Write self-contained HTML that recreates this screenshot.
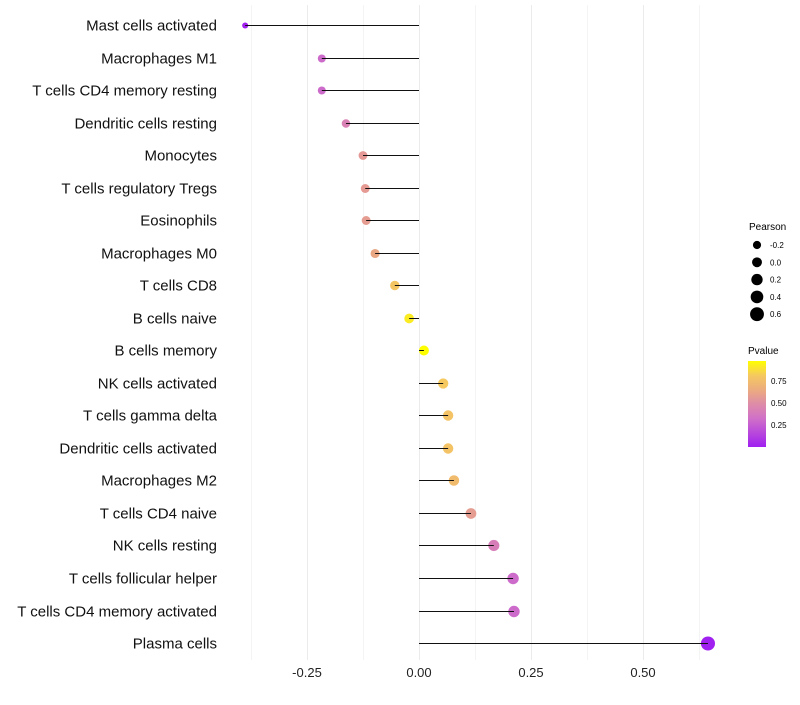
<!DOCTYPE html>
<html><head><meta charset="utf-8"><style>
body{margin:0;background:#fff;}
svg text{font-family:"Liberation Sans",sans-serif;}
</style></head><body>
<svg id="chart" width="800" height="700" xmlns="http://www.w3.org/2000/svg">
<g id="grid"></g>
<g id="dots"></g>
<g id="marks"></g>
<g id="ylabels"></g>
<g id="xlabels"></g>
<g id="sizeLegend">
<text x="749" y="230" font-size="10">Pearson</text>
</g>
<g>
<defs><linearGradient id="pg" x1="0" y1="1" x2="0" y2="0">
<stop offset="0" stop-color="#A020F0"/><stop offset="0.33" stop-color="#D070C8"/><stop offset="0.5" stop-color="#DE8CA8"/><stop offset="0.66" stop-color="#EBAA80"/><stop offset="0.83" stop-color="#F5C860"/><stop offset="1" stop-color="#FFFF00"/></linearGradient></defs>
<text x="748" y="354" font-size="10">Pvalue</text>
<rect x="748" y="361" width="18" height="86" fill="url(#pg)"/>
<text x="771" y="384" font-size="8">0.75</text>
<text x="771" y="406" font-size="8">0.50</text>
<text x="771" y="428" font-size="8">0.25</text>
</g>
</svg>
<script>
const categories=["Mast cells activated","Macrophages M1","T cells CD4 memory resting","Dendritic cells resting","Monocytes","T cells regulatory  Tregs ","Eosinophils","Macrophages M0","T cells CD8","B cells naive","B cells memory","NK cells activated","T cells gamma delta","Dendritic cells activated","Macrophages M2","T cells CD4 naive","NK cells resting","T cells follicular helper","T cells CD4 memory activated","Plasma cells"];
const pearson=[-0.388,-0.217,-0.217,-0.163,-0.125,-0.12,-0.118,-0.098,-0.054,-0.022,0.011,0.054,0.065,0.065,0.078,0.116,0.167,0.21,0.212,0.645];
const pvalues=[0.01,0.30,0.30,0.42,0.55,0.56,0.57,0.62,0.78,0.9,0.96,0.8,0.77,0.77,0.73,0.57,0.4,0.3,0.3,0.005];
const xTicks=[-0.25,0,0.25,0.5];
const xTickLabels=["-0.25","0.00","0.25","0.50"];
const xMinor=[-0.375,-0.125,0.125,0.375,0.625];
const sizeLegendVals=[-0.2,0,0.2,0.4,0.6];
const sizeLegendLabels=["-0.2","0.0","0.2","0.4","0.6"];
const NS="http://www.w3.org/2000/svg";
const xs=v=>419+v*448;
const ys=i=>25+i*32.53;
const rs=v=>Math.sqrt(Math.max(2.25,16+(v+0.217)*39));
const stops=[[0,[160,32,240]],[0.33,[208,112,200]],[0.5,[222,140,168]],[0.66,[235,170,128]],[0.83,[245,200,96]],[1,[255,255,0]]];
function col(p){let t=Math.max(0,Math.min(1,(p-0.005)/0.955));for(let i=1;i<stops.length;i++){if(t<=stops[i][0]){const a=stops[i-1],b=stops[i];const f=(t-a[0])/(b[0]-a[0]);const c=a[1].map((x,k)=>Math.round(x+(b[1][k]-x)*f));return `rgb(${c})`;}}return "rgb(255,255,0)";}
function mk(tag,attrs,parent){const e=document.createElementNS(NS,tag);for(const k in attrs)e.setAttribute(k,attrs[k]);parent.appendChild(e);return e;}
const grid=document.getElementById('grid');
xMinor.forEach(v=>{const x=Math.round(xs(v))+0.5;const l=mk('line',{x1:x,x2:x,y1:5,y2:660,stroke:'#f4f4f4','stroke-width':1},grid);

});
xTicks.forEach(v=>{const x=Math.round(xs(v))+0.5;const l=mk('line',{x1:x,x2:x,y1:5,y2:660,stroke:'#ebebeb','stroke-width':1},grid);

});
const xl=document.getElementById('xlabels');
xTicks.forEach((v,i)=>{const t=mk('text',{x:xs(v),y:677,'font-size':13,'text-anchor':'middle',fill:'#222'},xl);t.textContent=xTickLabels[i];

});
const marks=document.getElementById('marks'),dots=document.getElementById('dots'),yl=document.getElementById('ylabels');
categories.forEach((c,i)=>{const y=Math.round(ys(i))+0.5;
const d=mk('circle',{cx:xs(pearson[i]),cy:y,r:rs(pearson[i]),fill:col(pvalues[i])},dots);


const s=mk('line',{x1:xs(0),x2:xs(pearson[i]),y1:y,y2:y,stroke:'#111','stroke-width':1},marks);


const t=mk('text',{x:217,y:y+5,'font-size':15,'text-anchor':'end',fill:'#111','xml:space':'preserve'},yl);t.textContent=c;

});
const sl=document.getElementById('sizeLegend');
sizeLegendVals.forEach((v,i)=>{const y=245+i*17.3;
const c=mk('circle',{cx:757,cy:y,r:rs(v),fill:'#000'},sl);


const t=mk('text',{x:770,y:y+3,'font-size':8},sl);t.textContent=sizeLegendLabels[i];

});
</script>
</body></html>
